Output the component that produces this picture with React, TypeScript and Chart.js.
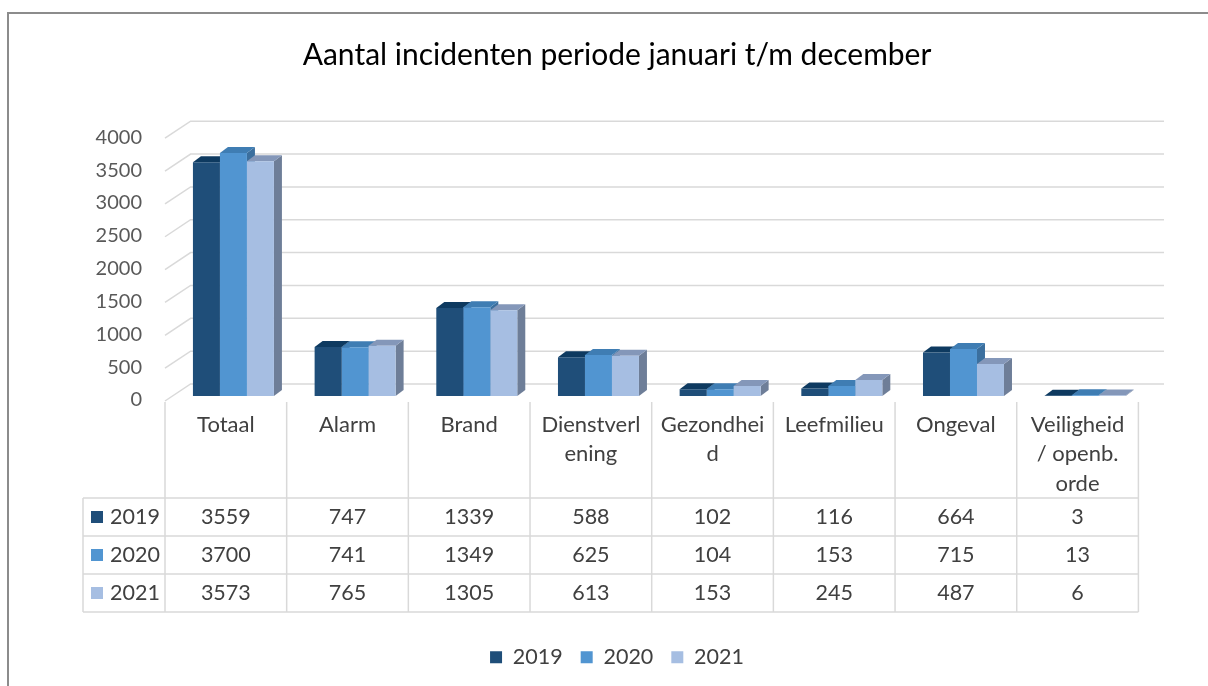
import React, { useEffect, useRef } from 'react';
import { Chart, registerables } from 'chart.js';

Chart.register(...registerables);

const TITLE = 'Aantal incidenten periode januari t/m december';
const categories: string[][] = [
  ['Totaal'],
  ['Alarm'],
  ['Brand'],
  ['Dienstverl', 'ening'],
  ['Gezondhei', 'd'],
  ['Leefmilieu'],
  ['Ongeval'],
  ['Veiligheid', '/ openb.', 'orde'],
];
const years = ['2019', '2020', '2021'];
const values2019 = [3559, 747, 1339, 588, 102, 116, 664, 3];
const values2020 = [3700, 741, 1349, 625, 104, 153, 715, 13];
const values2021 = [3573, 765, 1305, 613, 153, 245, 487, 6];
const yMin = 0;
const yMax = 4000;
const yStep = 500;

const frontColors = ['#1f4e79', '#5195d1', '#a6bee2'];
const topColors = ['#0e3a60', '#3f7db3', '#8497b9'];
const sideColors = ['#173f63', '#3b6f9e', '#6e7e98'];

const FONT = 'Lato';
const TEXT = '#404040';
const GRID = '#d9d9d9';
// 3D offsets relative to bar plane
const FX = -7.6, FY = 5; // front edge
const BX = 18, BY = -12; // back wall
const DX = 8, DY = -6; // bar depth

const threeD = {
  id: 'threeD',
  beforeDraw(chart: any) {
    const ctx = chart.ctx;
    ctx.save();
    ctx.fillStyle = '#ffffff';
    ctx.fillRect(0, 0, chart.width, chart.height);
    ctx.fillStyle = '#8c8c8c';
    ctx.fillRect(7, 12, chart.width - 7, 2);
    ctx.fillRect(7, 12, 2, chart.height - 12);
    ctx.restore();
  },
  beforeDatasetsDraw(chart: any) {
    const { ctx, chartArea: a } = chart;
    const y = chart.scales.y;
    ctx.save();
    ctx.strokeStyle = GRID;
    ctx.lineWidth = 1.5;
    y.ticks.forEach((t: any) => {
      const py = y.getPixelForValue(t.value);
      ctx.beginPath();
      ctx.moveTo(a.left + FX, py + FY);
      ctx.lineTo(a.left + BX, py + BY);
      ctx.lineTo(a.right + BX, py + BY);
      ctx.stroke();
    });
    chart.data.datasets.forEach((_ds: any, di: number) => {
      const meta = chart.getDatasetMeta(di);
      meta.data.forEach((bar: any) => {
        const p = bar.getProps(['x', 'y', 'base', 'width'], true);
        const l = p.x - p.width / 2;
        const r = p.x + p.width / 2;
        ctx.fillStyle = sideColors[di];
        ctx.beginPath();
        ctx.moveTo(r, p.y);
        ctx.lineTo(r + DX, p.y + DY);
        ctx.lineTo(r + DX, p.base + DY);
        ctx.lineTo(r, p.base);
        ctx.closePath();
        ctx.fill();
        ctx.fillStyle = topColors[di];
        ctx.beginPath();
        ctx.moveTo(l, p.y);
        ctx.lineTo(l + DX, p.y + DY);
        ctx.lineTo(r + DX, p.y + DY);
        ctx.lineTo(r, p.y);
        ctx.closePath();
        ctx.fill();
      });
    });
    ctx.restore();
  },
  afterDraw(chart: any) {
    const { ctx, chartArea: a } = chart;
    const x = chart.scales.x;
    const labels: string[][] = chart.data.labels;
    const n = labels.length;
    const half = (x.getPixelForValue(1) - x.getPixelForValue(0)) / 2;
    const cx = (i: number) => x.getPixelForValue(i) + FX;
    const headTop = a.bottom + FY + 1;
    const headBottom = headTop + 96;
    const rowH = 38;
    const nRows = chart.data.datasets.length;
    const tableBottom = headBottom + rowH * nRows;
    const tableLeft = 83;
    const tableRight = cx(n - 1) + half;

    ctx.save();
    ctx.strokeStyle = GRID;
    ctx.lineWidth = 1.5;
    for (let i = 0; i <= n; i++) {
      const vx = cx(0) - half + i * half * 2;
      ctx.beginPath();
      ctx.moveTo(vx, headTop);
      ctx.lineTo(vx, tableBottom);
      ctx.stroke();
    }
    ctx.beginPath();
    ctx.moveTo(tableLeft, headBottom);
    ctx.lineTo(tableLeft, tableBottom);
    ctx.stroke();
    for (let r = 0; r <= nRows; r++) {
      const hy = headBottom + r * rowH;
      ctx.beginPath();
      ctx.moveTo(tableLeft, hy);
      ctx.lineTo(tableRight, hy);
      ctx.stroke();
    }

    ctx.fillStyle = TEXT;
    ctx.font = `22px ${FONT}`;
    ctx.textAlign = 'center';
    ctx.textBaseline = 'middle';
    labels.forEach((lines, i) => {
      lines.forEach((line, k) => {
        ctx.fillText(line, cx(i), headTop + 22.5 + k * 29.5);
      });
    });
    ctx.font = `21.5px ${FONT}`;
    chart.data.datasets.forEach((ds: any, di: number) => {
      const cy = headBottom + rowH * (di + 0.5);
      ds.data.forEach((v: number, i: number) => {
        ctx.fillStyle = TEXT;
        ctx.textAlign = 'center';
        ctx.fillText(String(v), cx(i), cy);
      });
      ctx.fillStyle = frontColors[di];
      ctx.fillRect(91, cy - 6, 12, 12);
      ctx.fillStyle = TEXT;
      ctx.textAlign = 'left';
      ctx.fillText(ds.label, 110, cy);
    });
    ctx.restore();
  },
};

export default function App() {
  const ref = useRef<HTMLCanvasElement | null>(null);
  useEffect(() => {
    if (!ref.current) return;
    const series = [values2019, values2020, values2021];
    const chart = new Chart(ref.current, {
      type: 'bar',
      data: {
        labels: categories as any,
        datasets: years.map((yr, i) => ({
          label: yr,
          data: series[i],
          backgroundColor: frontColors[i],
          borderWidth: 0,
          barPercentage: 1,
          categoryPercentage: 0.6656,
        })),
      },
      options: {
        animation: false,
        responsive: false,
        maintainAspectRatio: false,
        layout: { padding: { left: 88, right: 62, top: 0, bottom: 8 } },
        plugins: {
          title: {
            display: true,
            text: TITLE,
            color: '#000000',
            font: { family: FONT, size: 30, weight: 'normal' },
            padding: { top: 37, bottom: 60.2 },
          },
          legend: {
            position: 'bottom',
            labels: {
              font: { family: FONT, size: 21.5 },
              color: TEXT,
              boxWidth: 12,
              boxHeight: 12,
              padding: 18,
            },
          },
          tooltip: { enabled: false },
        },
        scales: {
          x: {
            grid: { display: false },
            border: { display: false },
            ticks: { display: false },
            afterFit: (s: any) => {
              s.height = 232.5;
            },
          },
          y: {
            min: yMin,
            max: yMax,
            grid: { display: false, drawTicks: false },
            border: { display: false },
            ticks: {
              stepSize: yStep,
              font: { family: FONT, size: 20 },
              color: '#595959',
              padding: 30.6,
              labelOffset: 4,
              callback: (v: any) => String(v),
            },
            afterFit: (s: any) => {
              s.width = 84.6;
            },
          },
        },
      },
      plugins: [threeD],
    });
    return () => chart.destroy();
  }, []);
  return (
    <div style={{ position: 'absolute', left: 0, top: 0, width: 1208, height: 686 }}>
      <canvas ref={ref} width={1208} height={686} style={{ width: 1208, height: 686, display: 'block' }} />
    </div>
  );
}
